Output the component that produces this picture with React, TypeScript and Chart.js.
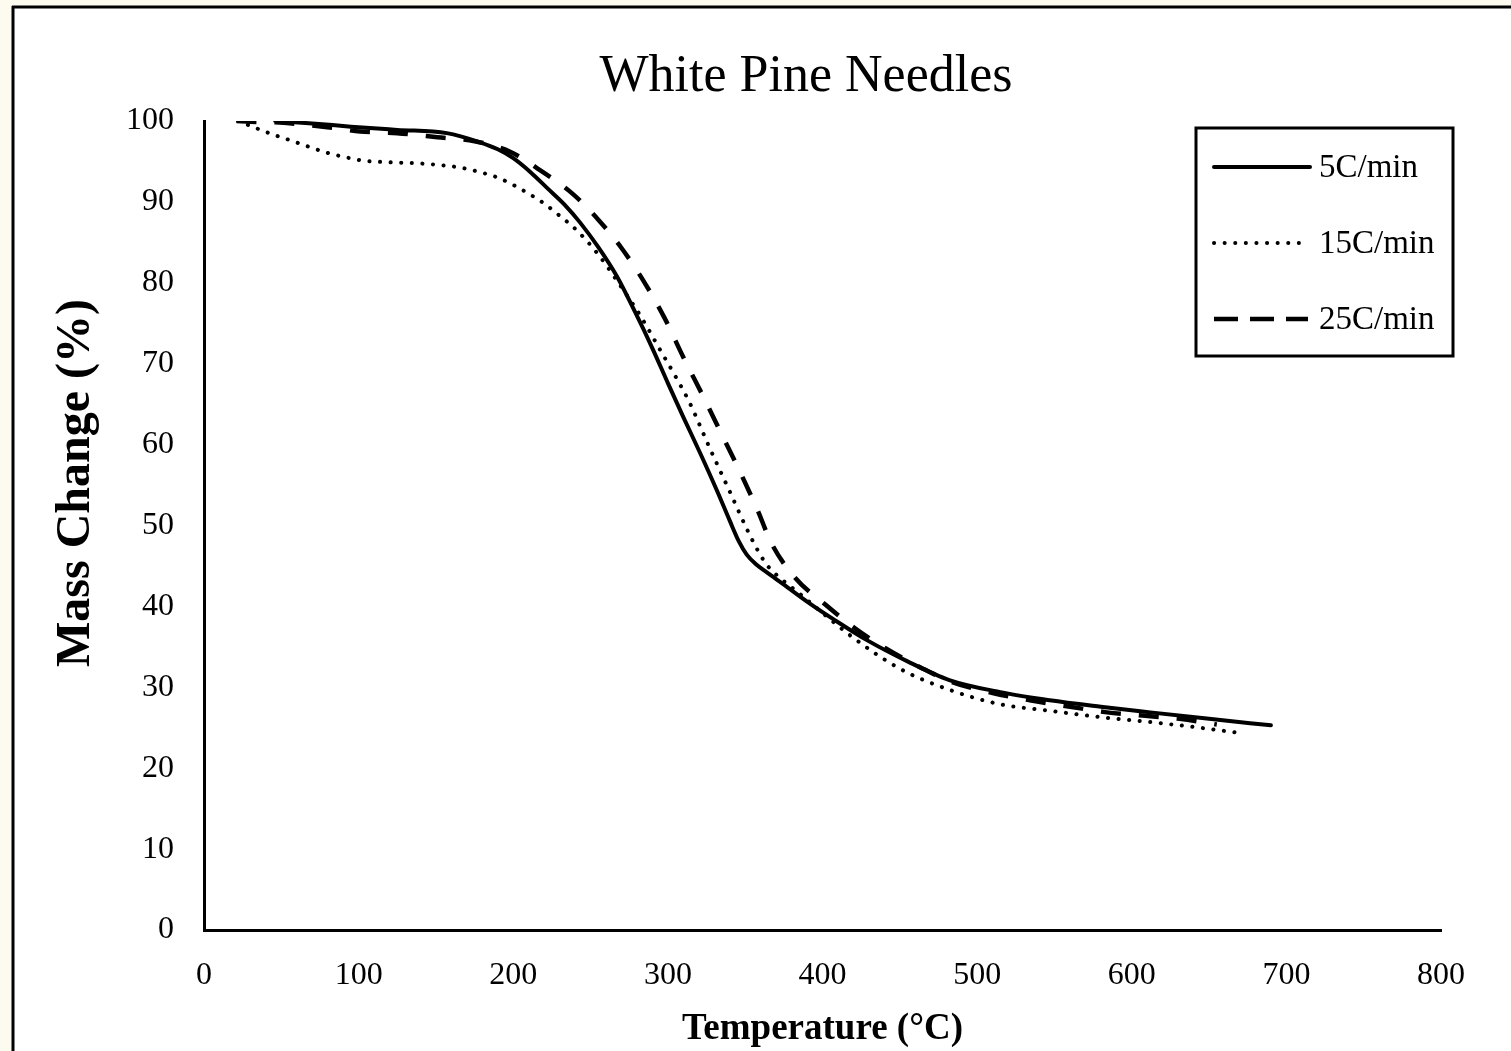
import React, { useEffect, useRef } from "react";
import { Chart, registerables } from "chart.js";

Chart.register(...registerables);

const TITLE = "White Pine Needles";
const X_TITLE = "Temperature (°C)";
const Y_TITLE = "Mass Change (%)";
const SERIES_LABELS = ["5C/min", "15C/min", "25C/min"];

const X_MIN = 0;
const X_MAX = 800;
const X_STEP = 100;
const Y_MIN = 0;
const Y_MAX = 100;
const Y_STEP = 10;

// 5C/min (solid)
const temp5 = [46, 70, 95, 125, 157, 178, 190, 200, 211, 222, 233, 243, 255, 267, 279, 290, 300, 310, 321, 332, 340, 346, 351, 357, 364, 375, 390, 408, 429, 455, 482, 515, 547, 580, 612, 650, 690];
const mass5 = [100, 99.7, 99.3, 98.9, 98.5, 97.4, 96.5, 95.4, 93.7, 91.7, 89.7, 87.5, 84.4, 80.8, 76.3, 71.9, 67.6, 63.4, 58.9, 54.2, 50.6, 48.0, 46.4, 45.2, 44.2, 42.7, 40.6, 38.3, 35.8, 33.2, 30.9, 29.4, 28.4, 27.6, 26.9, 26.1, 25.3];

// 15C/min (dotted)
const temp15 = [22, 34, 45, 56, 68, 81, 92, 103, 120, 135, 150, 167, 180, 190, 200, 211, 220, 228, 241, 255, 268, 282, 295, 305, 314, 327, 340, 353, 360, 365, 372, 385, 400, 418, 450, 482, 515, 547, 580, 612, 644, 672];
const mass15 = [100, 99.1, 98.3, 97.6, 96.8, 96.0, 95.5, 95.1, 94.9, 94.8, 94.6, 94.2, 93.6, 93.0, 92.1, 90.9, 89.8, 88.6, 86.5, 83.5, 80.0, 76.0, 71.7, 68.4, 65.2, 59.6, 54.2, 48.8, 46.3, 44.9, 43.6, 41.6, 39.2, 36.4, 32.3, 29.7, 27.9, 27.1, 26.3, 25.7, 25.0, 24.3];

// 25C/min (dashed)
const temp25 = [21, 30, 49, 77, 101, 125, 151, 175, 198, 219, 239, 255, 270, 285, 298, 310, 323, 335, 347, 358, 367, 382, 402, 421, 441, 464, 483, 510, 534, 560, 584, 607, 631, 655];
const mass25 = [100, 99.9, 99.8, 99.3, 98.7, 98.5, 98.0, 97.5, 96.2, 93.7, 90.9, 87.8, 84.3, 80.0, 75.6, 70.8, 65.9, 61.2, 56.5, 51.9, 47.8, 43.6, 40.2, 37.3, 34.8, 32.4, 30.7, 29.3, 28.4, 27.6, 26.9, 26.5, 26.1, 25.4];

const FONT = "'Liberation Serif', 'Times New Roman', Times, serif";

const toPoints = (xs: number[], ys: number[]) => xs.map((x, i) => ({ x, y: ys[i] }));

const W = 1511;
const H = 1051;

const decorPlugin = {
  id: "decor",
  beforeDraw(chart: any) {
    const ctx = chart.ctx;
    ctx.save();
    ctx.fillStyle = "#fdfaf0";
    ctx.fillRect(0, 0, W, H);
    ctx.fillStyle = "#ffffff";
    ctx.fillRect(13, 7, W - 13, H - 7);
    ctx.strokeStyle = "#000";
    ctx.lineWidth = 3;
    ctx.beginPath();
    ctx.moveTo(12, 7);
    ctx.lineTo(W, 7);
    ctx.moveTo(13, 6);
    ctx.lineTo(13, H);
    ctx.stroke();
    ctx.restore();
  },
  afterDraw(chart: any) {
    const ctx = chart.ctx;
    ctx.save();
    ctx.fillStyle = "#000";
    // title
    ctx.font = `52px ${FONT}`;
    ctx.textAlign = "center";
    ctx.textBaseline = "middle";
    ctx.fillText(TITLE, 806, 77);
    // y axis title
    ctx.save();
    ctx.translate(77, 483);
    ctx.rotate(-Math.PI / 2);
    ctx.font = `bold 48px ${FONT}`;
    ctx.fillText(Y_TITLE, 0, 0);
    ctx.restore();

    // legend
    const bx = 1196, by = 128, bw = 257, bh = 228;
    ctx.strokeStyle = "#000";
    ctx.lineWidth = 3;
    ctx.strokeRect(bx, by, bw, bh);
    const rows = [167, 243, 319];
    const sampleEnds = [1310, 1303, 1308];
    chart.data.datasets.forEach((ds: any, i: number) => {
      ctx.save();
      ctx.beginPath();
      ctx.lineWidth = ds.borderWidth;
      ctx.lineCap = ds.borderCapStyle || "butt";
      ctx.setLineDash(i === 2 ? [24, 12] : ds.borderDash || []);
      ctx.strokeStyle = ds.borderColor;
      ctx.moveTo(1214, rows[i]);
      ctx.lineTo(sampleEnds[i], rows[i]);
      ctx.stroke();
      ctx.restore();
      ctx.font = `33px ${FONT}`;
      ctx.textAlign = "left";
      ctx.textBaseline = "middle";
      ctx.fillText(ds.label, 1319, rows[i] + 1);
    });
    ctx.restore();
  },
};

export default function App() {
  const ref = useRef<HTMLCanvasElement | null>(null);
  useEffect(() => {
    if (!ref.current) return;
    const chart = new Chart(ref.current, {
      type: "line",
      data: {
        datasets: [
          {
            label: SERIES_LABELS[0],
            data: toPoints(temp5, mass5),
            borderColor: "#000",
            borderWidth: 4,
            pointRadius: 0,
            cubicInterpolationMode: "monotone",
            borderCapStyle: "round",
            fill: false,
          },
          {
            label: SERIES_LABELS[1],
            data: toPoints(temp15, mass15),
            borderColor: "#000",
            borderWidth: 4,
            borderDash: [0.1, 10.5],
            borderCapStyle: "round",
            pointRadius: 0,
            cubicInterpolationMode: "monotone",
            fill: false,
          },
          {
            label: SERIES_LABELS[2],
            data: toPoints(temp25, mass25),
            borderColor: "#000",
            borderWidth: 4.5,
            borderDash: [20, 18],
            borderCapStyle: "butt",
            pointRadius: 0,
            cubicInterpolationMode: "monotone",
            fill: false,
          },
        ],
      },
      options: {
        animation: false,
        responsive: false,
        devicePixelRatio: 1,
        layout: { padding: { top: 121, right: 70, left: 0, bottom: 0 } },
        plugins: {
          legend: { display: false },
          title: { display: false },
          tooltip: { enabled: false },
        },
        scales: {
          x: {
            type: "linear",
            min: X_MIN,
            max: X_MAX,
            grid: { display: false, drawTicks: false },
            border: { display: true, color: "#000", width: 3 },
            ticks: {
              stepSize: X_STEP,
              color: "#000",
              padding: 26,
              maxRotation: 0,
              font: { family: FONT, size: 32 },
            },
            title: {
              display: true,
              text: X_TITLE,
              color: "#000",
              font: { family: FONT, size: 37, weight: "bold", lineHeight: 1 },
              padding: { top: 0, bottom: 3 },
            },
            afterFit: (scale: any) => {
              scale.height = 121;
            },
          },
          y: {
            type: "linear",
            min: Y_MIN,
            max: Y_MAX,
            grid: { display: false, drawTicks: false },
            border: { display: true, color: "#000", width: 3 },
            ticks: {
              stepSize: Y_STEP,
              color: "#000",
              padding: 30,
              font: { family: FONT, size: 32 },
            },
            afterFit: (scale: any) => {
              scale.width = 204;
            },
          },
        },
      },
      plugins: [decorPlugin],
    } as any);
    return () => chart.destroy();
  }, []);
  return (
    <div style={{ position: "fixed", left: 0, top: 0, width: W, height: H }}>
      <canvas ref={ref} width={W} height={H} style={{ display: "block", width: W, height: H }} />
    </div>
  );
}
